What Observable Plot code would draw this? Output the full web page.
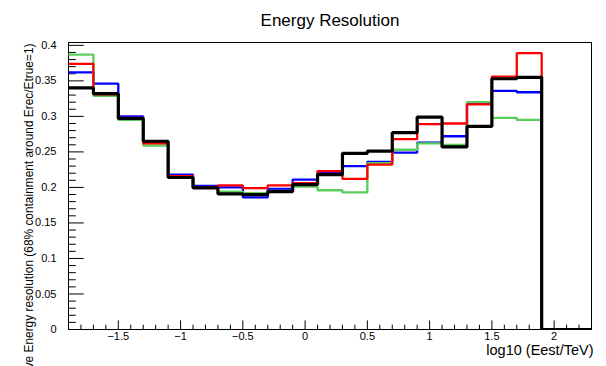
<!DOCTYPE html>
<html><head><meta charset="utf-8">
<script src="https://cdn.jsdelivr.net/npm/d3@7"></script>
<script src="https://cdn.jsdelivr.net/npm/@observablehq/plot@0.6"></script>
<style>body{margin:0;background:#fff} svg{display:block}</style>
</head><body><div id="chart"></div>
<script>
const title = "Energy Resolution";
const xTitle = "log10 (Eest/TeV)";
const yTitle = "Relative Energy resolution (68% containment around Erec/Etrue=1)";

// histogram bin edges (log10 Eest/TeV)
const binEdges = [-1.9,-1.7,-1.5,-1.3,-1.1,-0.9,-0.7,-0.5,-0.3,-0.1,0.1,0.3,0.5,0.7,0.9,1.1,1.3,1.5,1.7,1.9,2.1,2.3];

// bin contents per series
const greenVals = [0.387,0.329,0.295,0.259,0.214,0.200,0.194,0.192,0.195,0.201,0.196,0.193,0.234,0.253,0.262,0.260,0.320,0.298,0.295,0,0];
const blueVals  = [0.362,0.346,0.300,0.264,0.218,0.202,0.200,0.186,0.198,0.211,0.221,0.230,0.236,0.249,0.263,0.272,0.319,0.336,0.334,0,0];
const redVals   = [0.374,0.331,0.298,0.262,0.216,0.200,0.203,0.199,0.203,0.206,0.223,0.212,0.232,0.268,0.289,0.290,0.317,0.356,0.389,0,0];
const blackVals = [0.340,0.332,0.297,0.265,0.214,0.1995,0.191,0.190,0.194,0.204,0.218,0.248,0.251,0.277,0.299,0.257,0.286,0.353,0.355,0,0];

const seriesNames  = ["blue","green","red","black"];
const seriesColors = ["#0000ff","#5ccd5c","#ff0000","#000000"];
const seriesWidths = [2.3,2.3,2.3,3.2];
const seriesVals   = [blueVals, greenVals, redVals, blackVals];

// axis ticks
const xMajor = [-1.5,-1,-0.5,0,0.5,1,1.5,2];
const xMinor = [-1.8,-1.7,-1.6,-1.4,-1.3,-1.2,-1.1,-0.9,-0.8,-0.7,-0.6,-0.4,-0.3,-0.2,-0.1,0.1,0.2,0.3,0.4,0.6,0.7,0.8,0.9,1.1,1.2,1.3,1.4,1.6,1.7,1.8,1.9,2.1,2.2];
const yMajor = [0,0.05,0.1,0.15,0.2,0.25,0.3,0.35,0.4];
const yMinor = [0.01,0.02,0.03,0.04,0.06,0.07,0.08,0.09,0.11,0.12,0.13,0.14,0.16,0.17,0.18,0.19,0.21,0.22,0.23,0.24,0.26,0.27,0.28,0.29,0.31,0.32,0.33,0.34,0.36,0.37,0.38,0.39];

const W = 606, H = 366, mL = 68, mR = 15, mT = 42, mB = 37;
const fW = W - mL - mR, fH = H - mT - mB;

function stepRows(vals, name) {
  const rows = vals.map((v, i) => ({x: binEdges[i], y: v, s: name}));
  rows.push({x: binEdges[binEdges.length - 1], y: vals[vals.length - 1], s: name});
  return rows;
}

const font = "Liberation Sans, Arial, Helvetica, sans-serif";
const fmt = d3.format("");

const marks = [
  Plot.frame({stroke: "#000", strokeWidth: 1}),
  Plot.ruleX(xMajor, {x: d => d, insetTop: fH - 8.6, stroke: "#000"}),
  Plot.ruleX(xMinor, {x: d => d, insetTop: fH - 4.3, stroke: "#000"}),
  Plot.ruleY(yMajor, {y: d => d, insetRight: fW - 15.7, stroke: "#000"}),
  Plot.ruleY(yMinor, {y: d => d, insetRight: fW - 7.8, stroke: "#000"}),
  Plot.axisX(xMajor, {tickSize: 0, tickPadding: 3, fontSize: 11, tickFormat: fmt, label: null}),
  Plot.axisY(yMajor, {tickSize: 0, tickPadding: 12, fontSize: 11, tickFormat: fmt, label: null}),
];
seriesVals.forEach((vals, k) => {
  marks.push(Plot.line(stepRows(vals, seriesNames[k]), {
    x: "x", y: "y", curve: "step-after", stroke: seriesColors[k],
    strokeWidth: seriesWidths[k], strokeLinejoin: "miter", strokeLinecap: "butt", clip: true
  }));
});
marks.push(
  Plot.text([title], {text: d => d, frameAnchor: "top", dy: -17, lineAnchor: "bottom", fontSize: 17, fill: "#000"}),
  Plot.text([xTitle], {text: d => d, frameAnchor: "bottom-right", textAnchor: "end", dx: 2, dy: 25, lineAnchor: "bottom", fontSize: 14.5, fill: "#000"}),
  Plot.text([yTitle], {text: d => d, frameAnchor: "top-left", textAnchor: "end", rotate: -90, dx: -36, dy: 1, lineAnchor: "bottom", fontSize: 11.9, fill: "#000"})
);

const chart = Plot.plot({
  width: W, height: H,
  marginLeft: mL, marginRight: mR, marginTop: mT, marginBottom: mB,
  style: {fontFamily: font, color: "#000", background: "#fff", overflow: "hidden"},
  x: {domain: [-1.9, 2.3]},
  y: {domain: [0, 0.404]},
  marks
});
document.getElementById("chart").appendChild(chart);
</script>
</body></html>
